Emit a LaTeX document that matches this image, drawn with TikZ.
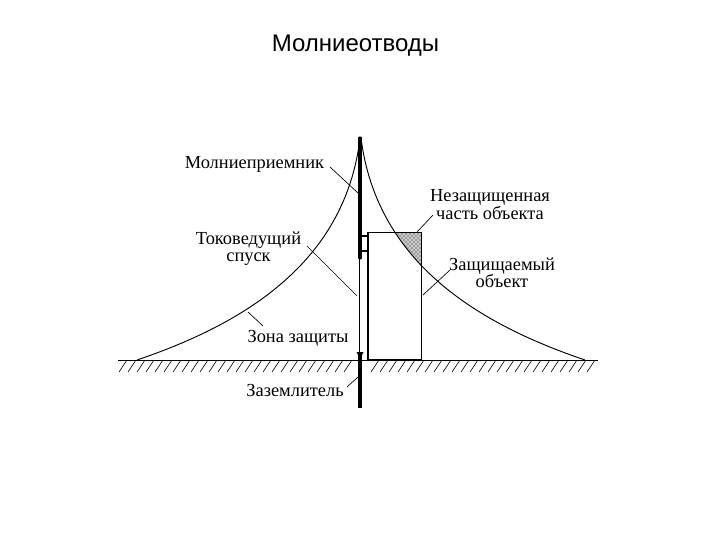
\documentclass[tikz,border=0pt]{standalone}
\usepackage{fontspec}
\setmainfont{Liberation Serif}
\newfontfamily\titlefont{Liberation Sans}
\usetikzlibrary{patterns}
\tikzset{
  label/.style={font=\fontsize{13.8}{13}\selectfont,inner sep=0pt,align=center},
  leader/.style={line width=.5pt},
  thin mast/.style={line width=.6pt},
  thick mast/.style={line width=2.3pt},
  hatch/.style={line width=.45pt},
  zone/.style={line width=.7pt},
}
\begin{document}
\begin{tikzpicture}[x=.75pt,y=-.75pt]
\useasboundingbox (0,0) rectangle (720,540);

\node[font=\titlefont\fontsize{18}{20}\selectfont] (title) at (355.5,46) {Молниеотводы};

% ground
\coordinate (gl) at (118,360);
\coordinate (gr) at (598,360);
\draw[line width=.7pt] (gl) -- (gr);
\foreach \x in {127,136,...,353} \draw[hatch] (\x,360) -- +(-8,12);
\foreach \x in {379,388,...,598} \draw[hatch] (\x,360) -- +(-8,12);

% unprotected part of the object
\fill[black!20] (395,232) -- (421.5,232) -- (421.5,267) -- (408,250) -- cycle;
\fill[pattern=crosshatch dots,pattern color=black] (395,232) -- (421.5,232) -- (421.5,267) -- (408,250) -- cycle;

% object
\coordinate (objtl) at (368,232);
\coordinate (objtr) at (421.5,232);
\coordinate (objbl) at (368,359.5);
\coordinate (objbr) at (421.5,359.5);
\draw[line width=.7pt] (objtl) -- (objtr) -- (objbr);
\draw[line width=1.3pt] (objtl) -- (objbl) -- (objbr);

% mast
\coordinate (top) at (360,138);
\coordinate (mid) at (360,258);
\coordinate (bot) at (360,353);
\coordinate (end) at (360,408);
\draw[thick mast,line cap=round] (top) -- (mid);
\draw[thin mast] (359,258) -- (359,352);
\draw[thick mast] (bot) -- (end);
\fill (356.5,352) -- (363.5,352) -- (360,359) -- cycle;
\draw[line width=1.4pt] (360,236) -- (368,236);
\draw[line width=1.4pt] (360,251) -- (368,251);

% zone
\draw[zone] (137,360) .. controls (240,325) and (345,265) .. (360,138);
\draw[zone] (585,360) .. controls (482,325) and (377,265) .. (361,138);

% labels
\node[label] (priem) at (254.5,164) {Молниеприемник};
\node[label] (spusk) at (248.5,249) {Токоведущий\\спуск};
\node[label] (nezasch) at (490,204.5) {Незащищенная\\часть объекта};
\node[label] (zasch) at (502,272.5) {Защищаемый\\объект};
\node[label] (zona) at (298,338) {Зона защиты};
\node[label] (zazem) at (295,390) {Заземлитель};

% leaders
\coordinate (p0) at (330,167);
\coordinate (p1) at (358,193);
\coordinate (s0) at (307,246);
\coordinate (s1) at (357,296);
\coordinate (n0) at (433,215);
\coordinate (n1) at (417,232);
\coordinate (z0) at (450,270);
\coordinate (z1) at (423,295);
\coordinate (q0) at (248,312);
\coordinate (q1) at (263,326);
\coordinate (g0) at (347,387);
\coordinate (g1) at (358,377);
\draw[leader] (p0) -- (p1);
\draw[leader] (s0) -- (s1);
\draw[leader] (n0) -- (n1);
\draw[leader] (z0) -- (z1);
\draw[leader] (q0) -- (q1);
\draw[leader] (g0) -- (g1);
\end{tikzpicture}
\end{document}
